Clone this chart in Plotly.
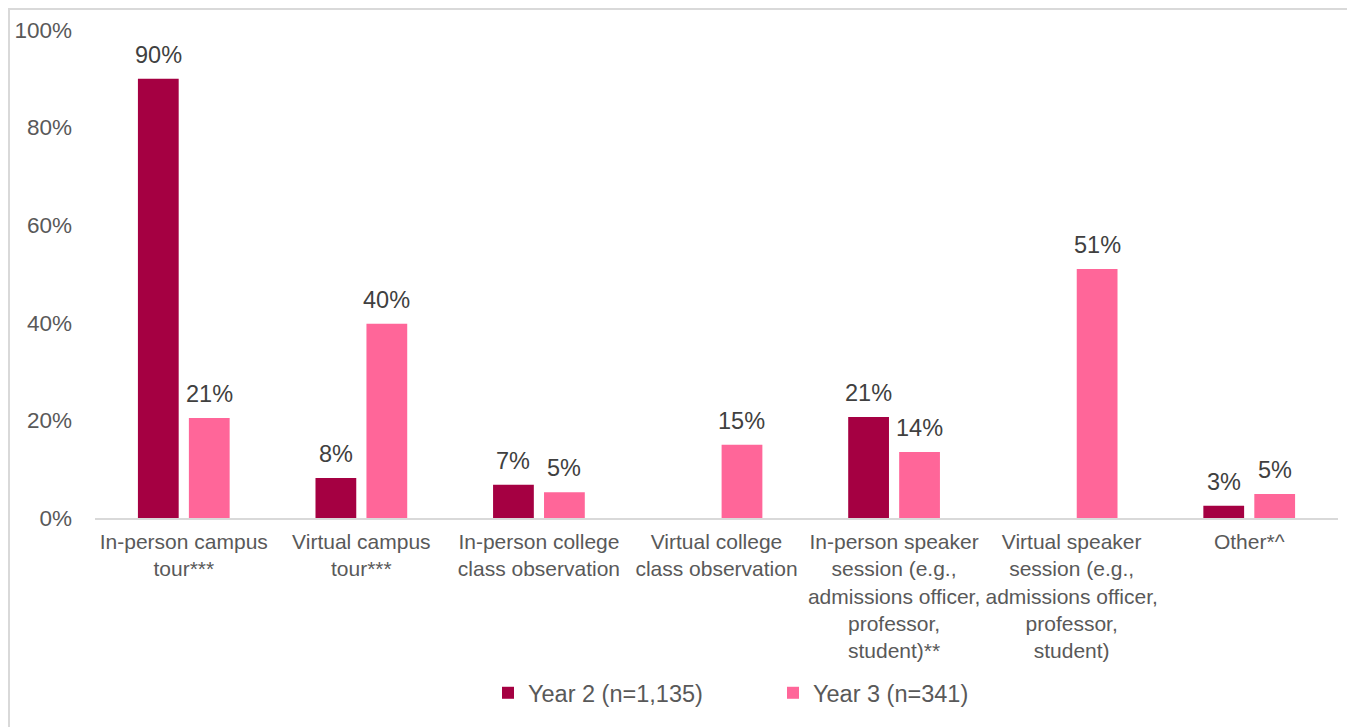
import plotly.graph_objects as go

categories = [
    "In-person campus<br>tour***",
    "Virtual campus<br>tour***",
    "In-person college<br>class observation",
    "Virtual college<br>class observation",
    "In-person speaker<br>session (e.g.,<br>admissions officer,<br>professor,<br>student)**",
    "Virtual speaker<br>session (e.g.,<br>admissions officer,<br>professor,<br>student)",
    "Other*^",
]
year2_values = [90.0, 8.2, 6.8, None, 20.7, None, 2.5]
year2_labels = ["90%", "8%", "7%", "", "21%", "", "3%"]
year3_values = [20.5, 39.8, 5.3, 15.0, 13.5, 51.0, 4.9]
year3_labels = ["21%", "40%", "5%", "15%", "14%", "51%", "5%"]
series_names = ["Year 2 (n=1,135)", "Year 3 (n=341)"]
colors = ["#A50042", "#FF6699"]
y_ticks = [0, 20, 40, 60, 80, 100]
y_tick_labels = ["0%", "20%", "40%", "60%", "80%", "100%"]

FONT = "Liberation Sans, Arial, sans-serif"
TEXT_COLOR = "#595959"
LABEL_COLOR = "#404040"

# page body has an 8px margin, so layout coordinates are offset by -8
OFF = 8
W, H = 1355, 727
L, R, T, B = 95 - OFF, 17 + OFF, 30 - OFF, 209 + OFF
pw, ph = W - L - R, H - T - B


def px_x(x):
    return (x - OFF - L) / pw


def px_y(y):
    return (H - B - (y - OFF)) / ph


fig = go.Figure()
for name, vals, col in [
    (series_names[0], year2_values, colors[0]),
    (series_names[1], year3_values, colors[1]),
]:
    fig.add_trace(go.Bar(
        name=name, x=categories, y=vals, marker_color=col, marker_line_width=0,
        cliponaxis=False,
    ))

annotations = []
cat_w = pw / len(categories)
bargap, bargroupgap = 0.426, 0.2
half_slot = (1 - bargap) * cat_w / 4
for shift, vals, labels in [(-half_slot, year2_values, year2_labels),
                            (half_slot, year3_values, year3_labels)]:
    for c, v, lab in zip(categories, vals, labels):
        if v is None or not lab:
            continue
        annotations.append(dict(
            x=c, y=v, xref="x", yref="y", text=lab, showarrow=False,
            xanchor="center", yanchor="bottom", xshift=shift, yshift=9,
            font=dict(family=FONT, size=23.5, color=LABEL_COLOR),
        ))

fig.update_layout(
    width=W, height=H,
    margin=dict(l=L, r=R, t=T, b=B, autoexpand=False),
    paper_bgcolor="white", plot_bgcolor="white",
    barmode="group", bargap=bargap, bargroupgap=bargroupgap,
    font=dict(family=FONT, size=21, color=TEXT_COLOR),
    showlegend=True,
    legend=dict(
        orientation="h", x=px_x(488), xanchor="left", y=px_y(693), yanchor="middle",
        font=dict(family=FONT, size=23.5, color=TEXT_COLOR),
        entrywidth=240, entrywidthmode="pixels", traceorder="normal",
        itemwidth=30,
    ),
    xaxis=dict(
        showline=True, linecolor="#D9D9D9", linewidth=1.5, ticks="", showgrid=False,
        tickangle=0, ticklabelstandoff=4,
        tickfont=dict(family=FONT, size=21, color=TEXT_COLOR), automargin=False,
    ),
    yaxis=dict(
        range=[0, 100], tickvals=y_ticks, ticktext=y_tick_labels,
        showgrid=False, showline=False, zeroline=False, ticks="", ticklabelstandoff=22,
        tickfont=dict(family=FONT, size=22.5, color=TEXT_COLOR), automargin=False,
    ),
    annotations=annotations,
    shapes=[dict(
        type="rect", xref="paper", yref="paper",
        x0=px_x(9), x1=px_x(1351), y0=px_y(745), y1=px_y(9),
        line=dict(color="#D9D9D9", width=2), fillcolor="rgba(0,0,0,0)", layer="above",
    )],
)

fig.write_html("out.html")
